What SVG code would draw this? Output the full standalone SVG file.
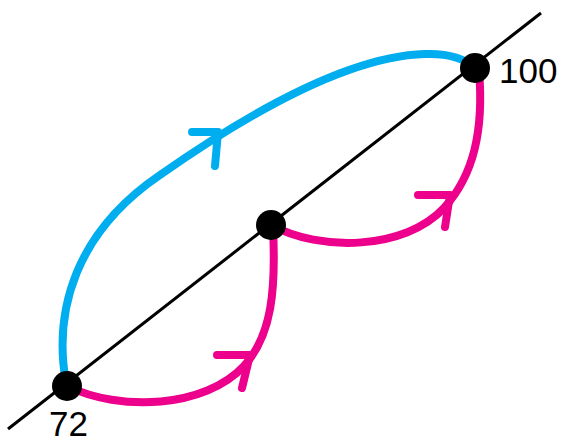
<svg xmlns="http://www.w3.org/2000/svg" width="561" height="442" viewBox="0 0 561 442">
<style>
.blue{fill:none;stroke:#00AEEF;stroke-width:8;stroke-linecap:round;stroke-linejoin:round}
.pink{fill:none;stroke:#EC008C;stroke-width:8;stroke-linecap:round;stroke-linejoin:round}
.axis{stroke:#000;stroke-width:3}
.dot{fill:#000}
.lbl{font-family:"Liberation Sans",Arial,sans-serif;font-size:35px;fill:#000}
</style>
<g id="connectors">
<path class="blue" d="M66,383 C53,310 76,232 160,175 C250,112 350,56 425,54 C450,53 466,60 475,68"/>
<path class="blue" d="M192,132 L218,132 L215,166"/>
<path class="pink" d="M67,386 C120,412 205,408 244,366 C272,335 276,290 273,228"/>
<path class="pink" d="M217,355 L250,355 L242,388"/>
<path class="pink" d="M271,225 C320,252 405,250 444,208 C474,175 484,130 479,70"/>
<path class="pink" d="M418,195 L450,195 L445,227"/>
</g>
<line class="axis" x1="8" y1="429" x2="541" y2="13"/>
<g id="n72"><circle class="dot" cx="67" cy="386" r="15"/><text class="lbl" x="49" y="436">72</text></g>
<g id="nmid"><circle class="dot" cx="271" cy="225" r="15"/></g>
<g id="n100"><circle class="dot" cx="475" cy="68" r="15"/><text class="lbl" x="499" y="83">100</text></g>
</svg>
